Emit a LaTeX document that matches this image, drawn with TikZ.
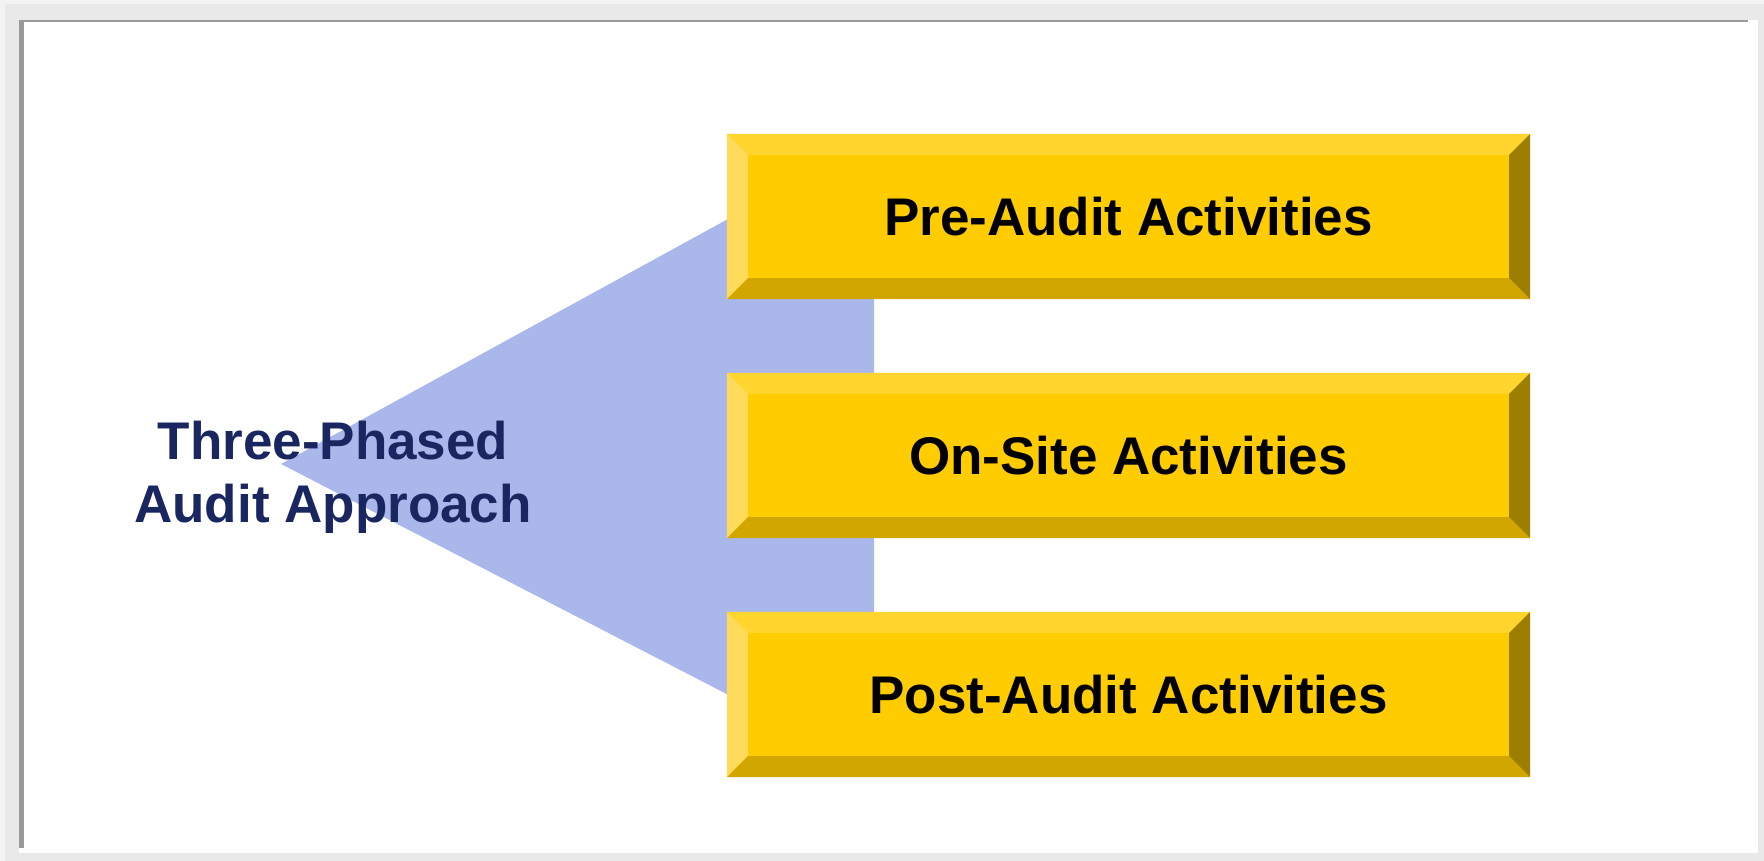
\documentclass[tikz,border=0pt]{standalone}
\usepackage{fontspec}
\setmainfont{Liberation Sans}
\usetikzlibrary{calc}
\definecolor{bgout}{HTML}{F3F3F3}
\definecolor{bgin}{HTML}{E9E9E9}
\definecolor{frameline}{HTML}{999999}
\definecolor{tri}{HTML}{AAB7EB}
\definecolor{navy}{HTML}{1A2660}
\definecolor{face}{HTML}{FFCC00}
\definecolor{bvtop}{HTML}{FFD52E}
\definecolor{bvleft}{HTML}{FFDB5C}
\definecolor{bvbot}{HTML}{D1A600}
\definecolor{bvright}{HTML}{9E7E00}
\tikzset{
  phasebox/.style={fill=face, draw=none, minimum width=803pt, minimum height=165pt,
    inner sep=0pt, font=\fontsize{53}{63}\selectfont\bfseries, text=black},
  label/.style={align=center, font=\fontsize{53}{63}\selectfont\bfseries, text=navy, inner sep=0pt}
}
\newcommand{\bevels}[1]{%
  \fill[bvtop] (#1.north west) -- (#1.north east) -- ([shift={(-21pt,-21pt)}]#1.north east) -- ([shift={(21pt,-21pt)}]#1.north west) -- cycle;
  \fill[bvleft] (#1.north west) -- ([shift={(21pt,-21pt)}]#1.north west) -- ([shift={(21pt,21pt)}]#1.south west) -- (#1.south west) -- cycle;
  \fill[bvbot] (#1.south west) -- ([shift={(21pt,21pt)}]#1.south west) -- ([shift={(-21pt,21pt)}]#1.south east) -- (#1.south east) -- cycle;
  \fill[bvright] (#1.north east) -- (#1.south east) -- ([shift={(-21pt,21pt)}]#1.south east) -- ([shift={(-21pt,-21pt)}]#1.north east) -- cycle;
}
\begin{document}
\begin{tikzpicture}[x=1pt,y=-1pt]
\useasboundingbox (0,0) rectangle (1764,861);
% frame
\fill[bgout] (0,0) rectangle (1764,861);
\fill[bgin] (5,4) rectangle (1764,861);
\fill[white] (19,20) rectangle (1758,853);
\fill[frameline] (19,20) rectangle (1748,22.5);
\fill[frameline] (19,20) rectangle (24,848);
% fan shape
\coordinate (apex) at (281,464);
\fill[tri] (apex) -- (874,139) -- (874,770) -- cycle;
% boxes
\node[phasebox] (b1) at (1128.5,216.5) {};
\node[phasebox] (b2) at (1128.5,455.5) {};
\node[phasebox] (b3) at (1128.5,694.5) {};
\bevels{b1}
\bevels{b2}
\bevels{b3}
\node[phasebox, fill=none, minimum width=0pt, minimum height=0pt] (t1) at (b1.center) {Pre-Audit Activities};
\node[phasebox, fill=none, minimum width=0pt, minimum height=0pt] (t2) at (b2.center) {On-Site Activities};
\node[phasebox, fill=none, minimum width=0pt, minimum height=0pt] (t3) at (b3.center) {Post-Audit Activities};
% label
\node[label] (lab) at (333,477) {Three-Phased\\Audit Approach};
\end{tikzpicture}
\end{document}
